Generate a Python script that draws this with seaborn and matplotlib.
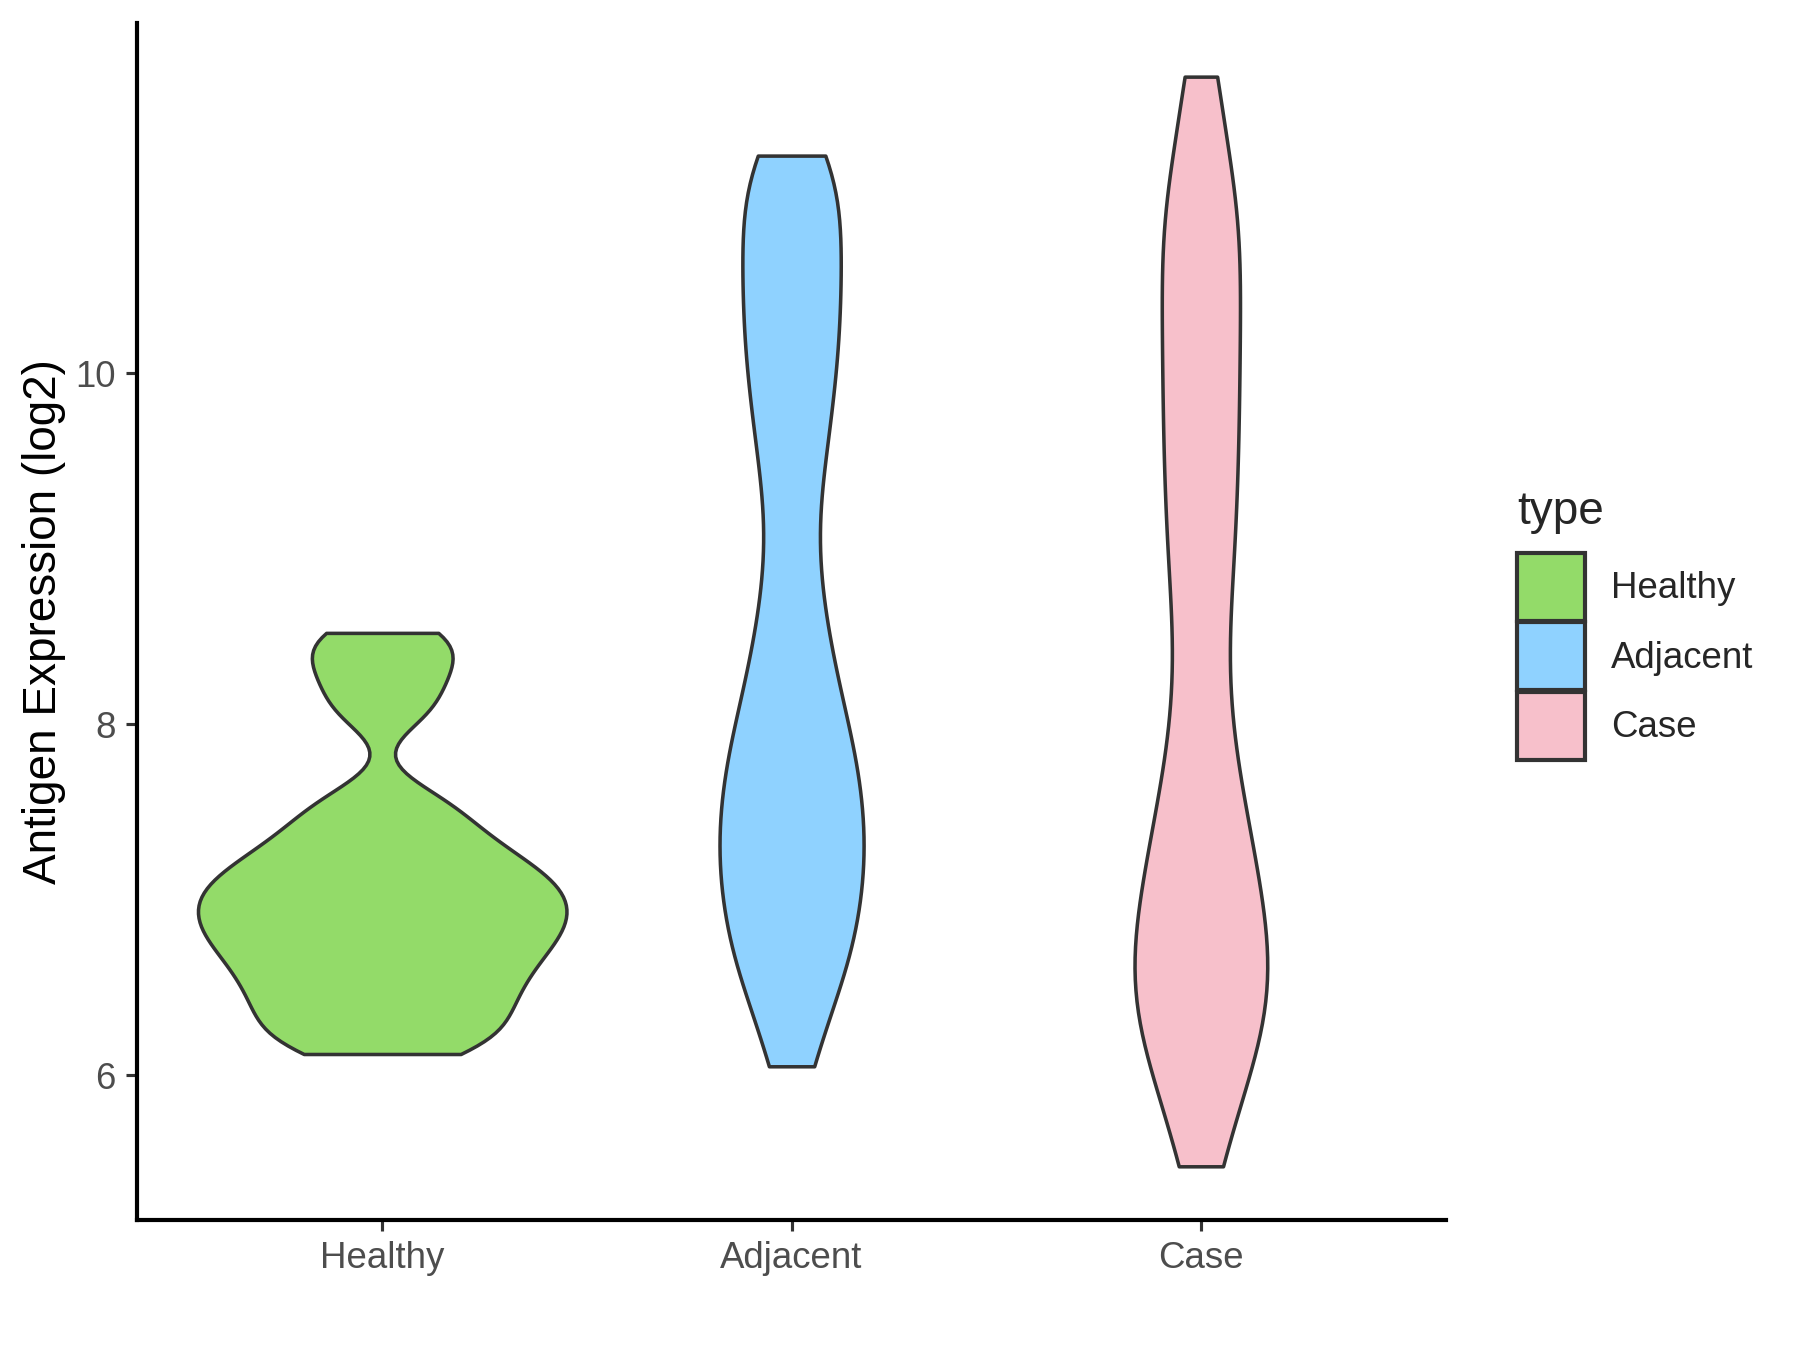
import pandas as pd
import seaborn as sns
import matplotlib.pyplot as plt
from matplotlib.patches import Patch

# values (log2 antigen expression)
groups = ['Healthy', 'Adjacent', 'Case']
colors = ['#93DB69', '#8FD2FF', '#F7C0CB']

healthy = [6.12, 6.20, 6.29, 6.37, 6.45, 6.525, 6.60, 6.665, 6.73, 6.79, 6.845, 6.90,
           6.955, 7.01, 7.065, 7.12, 7.185, 7.255, 7.34, 7.45, 7.58, 8.07, 8.25, 8.40, 8.52]
adjacent = [6.05, 6.38, 6.56, 6.69, 6.83, 6.96, 7.08, 7.20, 7.31, 7.42, 7.54,
            7.67, 7.79, 7.92, 8.07, 8.26, 8.46, 8.72, 9.05, 9.40, 9.64, 9.87,
            10.06, 10.24, 10.42, 10.59, 10.77, 10.94, 11.14, 11.24]
case = [5.48, 5.81, 6.02, 6.16, 6.30, 6.42, 6.54, 6.65, 6.77, 6.90, 7.04, 7.19,
        7.35, 7.53, 7.75, 8.02, 8.35, 8.68, 8.95, 9.20, 9.44, 9.67, 9.90, 10.12,
        10.35, 10.57, 10.78, 11.00, 11.25, 11.69]

df = pd.DataFrame({
    'type': ['Healthy'] * len(healthy) + ['Adjacent'] * len(adjacent) + ['Case'] * len(case),
    'value': healthy + adjacent + case,
})

sns.set_style('white')
plt.rcParams['font.family'] = ['Liberation Sans', 'DejaVu Sans']

fig = plt.figure(figsize=(12, 9), dpi=150)
ax = fig.add_axes([0.0759, 0.0963, 0.7277, 0.8867])

sns.violinplot(data=df, x='type', y='value', hue='type', order=groups, hue_order=groups,
               palette=colors, cut=0, inner=None, width=0.9, density_norm='area',
               common_norm=True, bw_method=0.2, linewidth=1.7, linecolor='#333333',
               saturation=1, legend=False, ax=ax)

ax.set_xlim(-0.6, 2.6)
ax.set_ylim(5.174, 11.996)
ax.set_yticks([6, 8, 10])
ax.set_xlabel('')
ax.set_ylabel('Antigen Expression (log2)', fontsize=22, color='black', labelpad=4.5)

for side in ['top', 'right']:
    ax.spines[side].set_visible(False)
for side in ['left', 'bottom']:
    ax.spines[side].set_color('black')
    ax.spines[side].set_linewidth(2)
ax.tick_params(axis='both', which='major', direction='out', length=5.5, width=1.5,
               color='#333333', labelcolor='#4D4D4D', labelsize=17.6, pad=4.5,
               left=True, bottom=True)

# legend on the right, like ggplot's guide
handles = [Patch(facecolor=c, edgecolor='#333333', linewidth=2, label=g)
           for g, c in zip(groups, colors)]
leg = fig.legend(handles=handles, title='type', loc='center left',
                 bbox_to_anchor=(0.843, 0.537), frameon=False, fontsize=17.6,
                 title_fontsize=22, handlelength=1.85, handleheight=2.47,
                 labelspacing=0.05, handletextpad=0.7, borderpad=0, borderaxespad=0)
leg._legend_box.align = 'left'
leg._legend_box.sep = 9  # more room under the title

fig.savefig('out.png', dpi=150)
